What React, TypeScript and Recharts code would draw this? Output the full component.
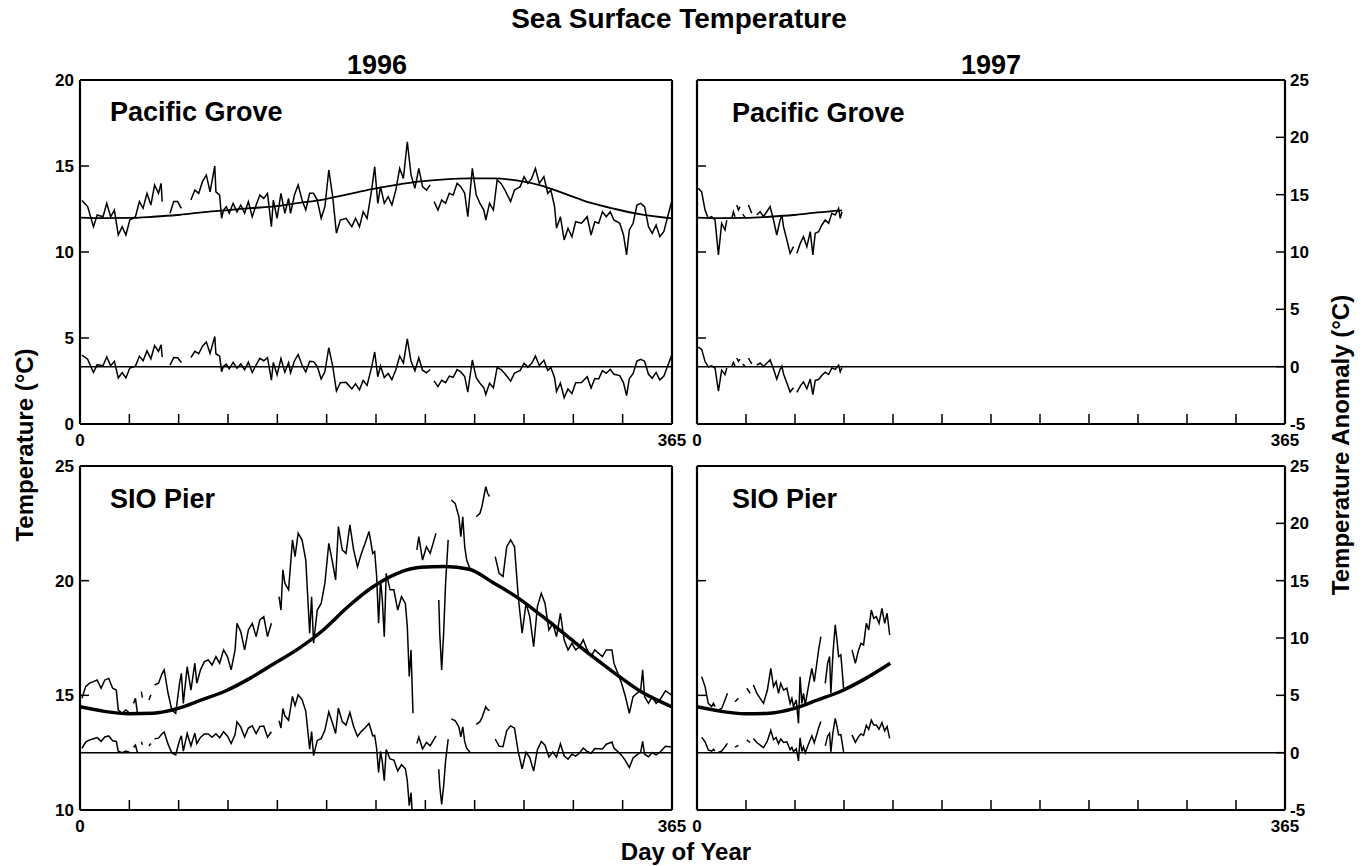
import React from 'react';
import { LineChart, Line, XAxis, YAxis, ReferenceLine } from 'recharts';

const FONT = '"Liberation Sans", Arial, Helvetica, sans-serif';

// ---- tick values ----
const MONTH_TICKS = [0, 30.42, 60.83, 91.25, 121.67, 152.08, 182.5, 212.92, 243.33, 273.75, 304.17, 334.58, 365];
const PG_TEMP_TICKS = [0, 5, 10, 15, 20];
const SIO_TEMP_TICKS = [10, 15, 20, 25];
const ANOM_TICKS = [-5, 0, 5, 10, 15, 20, 25];

// ---- climatologies ----
const CLIM_DAY = [0, 15, 30, 45, 60, 75, 90, 105, 120, 135, 150, 165, 180, 195, 210, 225, 240, 255, 270, 285, 300, 315, 330, 345, 365];
const PG_CLIM = [12.0, 11.97, 11.98, 12.05, 12.15, 12.3, 12.42, 12.55, 12.65, 12.85, 13.05, 13.35, 13.65, 13.9, 14.1, 14.22, 14.28, 14.28, 14.15, 13.85, 13.35, 12.85, 12.5, 12.2, 11.95];
const SIO_CLIM = [14.5, 14.3, 14.2, 14.22, 14.42, 14.8, 15.2, 15.75, 16.4, 17.05, 17.85, 18.85, 19.7, 20.3, 20.58, 20.62, 20.5, 19.9, 19.25, 18.45, 17.6, 16.75, 15.95, 15.2, 14.5];

// ---- Pacific Grove 1996 ----
const PG96_DAY = [1.2, 4.7, 8.3, 10.6, 14.2, 16.5, 18.9, 21.2, 23.6, 26, 28.3, 30.7, 34.2, 36.6, 38.9, 41.3, 43.7, 46, 48.4, 50, 50.7, 53, 55.5, 57.8, 60.2, 62.5, 65, 68.4, 70.8, 73.2, 75.5, 77.9, 80.2, 83.1, 83.8, 86.1, 87.3, 88.5, 90.2, 92, 94.4, 96.8, 99.1, 101.5, 103.8, 106.2, 108.6, 110.9, 113.3, 115.6, 118, 119.2, 121.5, 123.9, 126.3, 128.6, 129.8, 132.2, 134.5, 136.9, 139.2, 141.6, 144, 146.3, 148.7, 151, 153.4, 155.8, 158.1, 160.5, 164, 167.6, 169.9, 172.3, 174.6, 177, 179.8, 181.7, 183.6, 185.3, 187.6, 190, 192.3, 194.7, 197.1, 199.4, 201.8, 204.1, 206.5, 208.9, 211.2, 213.6, 215.9, 217, 218.3, 220.7, 223, 225.4, 227.7, 230.1, 232.5, 234.8, 237.2, 239.1, 241.9, 244.3, 246.6, 249, 250.2, 252.5, 254.9, 257.2, 259.6, 262, 265.5, 267.9, 271.4, 273.8, 276.1, 278.5, 280.8, 283.2, 286, 288.4, 290.3, 292.6, 293.8, 296.2, 298.5, 300.9, 303.3, 305.6, 309.2, 312.7, 315.1, 317.4, 319.8, 322.1, 324.5, 326.9, 329.2, 332.8, 335.1, 337, 338.7, 341, 343.4, 345.7, 348.1, 350.5, 352.8, 355.2, 357.5, 360, 363, 365];
const PG96_T = [13.0, 12.64, 11.47, 12.15, 12.05, 12.83, 12.05, 12.44, 10.99, 11.47, 10.99, 11.86, 12.05, 12.93, 12.54, 13.41, 12.73, 13.9, 13.41, 13.99, 12.93, null, 12.25, 12.93, 12.93, 12.54, null, 13.02, 13.6, 13.41, 14.09, 14.48, 13.5, 15.0, 13.5, 13.31, 11.96, 12.44, 12.64, 12.25, 12.83, 12.34, 12.73, 12.25, 12.93, 12.05, 12.73, 13.31, 13.12, 13.41, 11.47, 13.02, 11.96, 13.41, 12.25, 13.12, 12.25, 13.31, 13.9, 13.02, 12.44, 13.41, 13.41, 13.02, 11.96, 12.64, 14.77, 13.22, 11.09, 11.86, 11.96, 11.47, 11.96, 11.47, 12.34, 11.96, 13.6, 14.96, 12.83, 13.8, 12.83, 13.22, 12.73, 13.6, 14.86, 14.28, 16.41, 14.48, 13.7, 14.86, 13.8, 13.6, 13.9, null, 12.93, 12.44, 13.02, 12.83, 13.41, 13.31, 13.99, 13.8, 13.41, 12.05, 14.86, 13.31, 12.83, 12.44, 11.86, 12.83, 12.44, 14.19, 13.99, 13.6, 12.93, 13.6, 13.8, 14.38, 13.99, 14.28, 14.86, 13.99, 14.38, 13.41, 13.6, 12.64, 11.38, 12.05, 10.7, 11.38, 10.89, 11.76, 11.67, 12.05, 10.99, 11.76, 11.67, 12.34, 12.05, 12.34, 11.86, 11.67, 10.99, 9.83, 11.28, 11.67, 12.73, 12.83, 12.64, 11.47, 11.09, 11.57, 10.89, 11.2, 12.3, 13.0];

// ---- Pacific Grove 1997 ----
const PG97_DAY = [0.8, 2.9, 5.0, 7.0, 9.1, 11.2, 13.3, 15.3, 17.4, 18.5, 20, 21.6, 22.6, 23.6, 24.2, 24.7, 25.7, 26.7, 28, 28.4, 29.9, 31, 31.9, 34, 36, 37.1, 39.2, 41.3, 43.3, 45.4, 47.5, 49.5, 51.6, 52.7, 53.7, 55.8, 57.8, 59.9, 61.5, 62, 64.1, 66.1, 68.2, 70.3, 71.9, 73.4, 75.5, 77.5, 79.6, 81.7, 83.7, 85.8, 87.9, 88.9, 90];
const PG97_T = [13.7, 13.5, 12.44, 11.96, 12.05, 11.86, 9.83, 11.67, 11.28, 11.86, null, 11.96, 12.34, 12.05, null, 12.73, 12.44, 12.64, null, 12.2, 12.0, null, 12.73, 12.25, null, 12.15, 12.34, 12.05, 12.34, 12.64, 11.86, 10.99, 11.86, 12.15, 11.47, 10.7, 9.92, 10.31, null, 9.92, 10.5, 10.89, 10.31, 11.18, 9.83, 11.09, 11.18, 11.57, 11.86, 11.67, 12.25, 12.15, 12.54, 11.96, 12.34];

// ---- SIO Pier 1996 ----
const SIO96_DAY = [1.2, 3.5, 5.9, 8.3, 10.6, 13, 15.3, 17.7, 20.1, 22.4, 23.6, 26, 28.3, 30.7, 32, 33, 34.2, 35.4, 37, 37.8, 38.5, 40, 42.5, 43.7, 45, 46, 48.4, 50.7, 51.9, 54.3, 56.6, 59, 61.4, 62.5, 63.7, 66.1, 68.4, 70.8, 72, 74.3, 76.7, 79.1, 81.4, 83.8, 86.1, 88.5, 90.9, 93.2, 95.6, 96.8, 99.1, 101.5, 103.8, 106.2, 108.6, 110.9, 113.3, 115.6, 118, 120, 122.7, 123.9, 125.1, 126.3, 128.6, 131, 132.6, 134.5, 136.9, 139.2, 141.6, 142.8, 144, 146.3, 148.7, 151, 153.4, 155.8, 157.6, 159.3, 161.7, 164, 166.4, 168.7, 171.1, 173.5, 175.8, 178.2, 180.5, 181.7, 182.9, 184.1, 185.3, 186.4, 187.6, 188.8, 191.2, 193.5, 195.9, 198.2, 200.6, 201.8, 203, 204.1, 205.3, 207, 207.7, 208.9, 211.2, 213.6, 215.9, 218.3, 219.5, 220.6, 221.2, 221.8, 223, 224.2, 225.4, 227, 228, 228.9, 231.3, 233.6, 234.8, 236, 237.2, 238.4, 240.7, 243, 244.3, 246.6, 247.8, 249, 250.2, 251.3, 252.5, 254, 256, 258.4, 260.8, 263.1, 265.5, 267.9, 270.2, 272.6, 275, 277.3, 279.7, 282, 284.4, 286.7, 289.1, 291.5, 293.8, 296.2, 298.5, 300.9, 303.3, 305.6, 308, 310.3, 312.7, 315.1, 317.4, 319.8, 322.1, 324.5, 328, 329.2, 331.6, 333.9, 336.3, 338.7, 341, 343.4, 345.7, 346.9, 348.1, 350.5, 352.8, 355.2, 357.5, 361, 365];
const SIO96_T = [14.87, 15.38, 15.53, 15.6, 15.67, 15.31, 15.67, 15.74, 15.31, 15.23, 14.36, 14.22, 14.36, 14.22, null, 14.65, 14.87, 14.22, null, 15.16, 14.9, null, 14.8, 15.02, null, 15.45, 15.53, 15.96, 16.11, 15.09, 14.36, 14.22, 15.53, 15.96, 14.65, 16.25, 15.23, 16.4, 15.53, 16.11, 16.47, 16.54, 16.32, 16.69, 16.4, 16.98, 16.69, 16.11, 16.98, 18.14, 17.78, 16.98, 17.85, 18.14, 17.56, 18.29, 18.43, 17.56, 18.14, null, 19.3, 18.72, 20.47, 19.89, 19.6, 21.78, 21.05, 22.07, 21.78, 20.9, 17.71, 19.3, 17.27, 18.72, 19.01, 19.89, 21.63, 20.76, 20.03, 22.36, 21.34, 21.19, 22.43, 21.34, 20.61, 21.19, 21.63, 22.14, 21.19, 21.27, 20.18, 18.14, 20.03, 19.16, 17.56, 20.32, 19.6, 19.6, 18.72, 19.3, 19.01, 18.0, 15.82, 16.98, 14.22, null, 21.34, 21.92, 20.9, 21.48, 21.19, 21.78, 22.07, null, 19.16, 17.71, 16.11, 17.71, 19.89, 21.78, null, 23.52, 23.37, 22.79, 21.92, 22.79, 21.48, 20.9, 20.47, null, 22.79, 22.94, 23.23, 23.67, 24.1, 23.81, 23.67, null, 21.05, 20.32, 20.18, 21.48, 21.78, 21.48, 19.3, 17.71, 19.01, 18.43, 17.12, 18.87, 19.45, 19.01, 17.85, 18.14, 17.56, 18.58, 17.42, 16.98, 17.27, 16.98, 17.12, 17.42, 16.98, 16.69, 16.98, 16.83, 16.69, 16.98, 16.98, 16.4, 15.96, 15.53, 14.94, 14.22, 14.94, 15.09, 15.23, 16.11, 14.94, 14.65, 14.94, 14.65, 14.8, 15.2, 15.0];

// ---- SIO Pier 1997 ----
const SIO97_DAY = [2.9, 5.0, 7.0, 9.1, 10.2, 11.2, 12.2, 13.3, 15.3, 17.4, 18.9, 21, 23.6, 25.7, 28, 30.9, 33, 34, 35, 37.1, 39.2, 41.3, 43.7, 45.8, 47.5, 49.1, 50.6, 52, 53.7, 55.8, 57.8, 58.9, 59.9, 61.6, 63, 64, 65.1, 66.1, 67.2, 68.6, 70.3, 71.3, 72.8, 74.4, 75.5, 76.9, 78, 79.6, 81.1, 82.3, 83.1, 84.4, 85.8, 86.9, 87.9, 89.3, 91, 93, 96.2, 98.3, 100.3, 101.8, 103.4, 105.1, 106.6, 108.2, 109.7, 111.3, 113, 114.8, 116.5, 118, 119.6];
const SIO97_T = [15.81, 15.38, 14.65, 14.51, 14.65, 14.51, null, 14.36, 14.43, 14.8, 15.09, null, 14.72, 14.87, null, 15.31, 15.09, null, 15.45, 15.09, 14.87, 14.65, 15.23, 16.18, 15.38, 15.6, 15.09, 15.52, 15.23, 15.31, 14.65, 14.87, 14.51, 14.8, 13.78, 15.81, 14.65, 15.09, 14.58, 15.16, 15.81, 16.18, 15.6, 16.4, 16.98, 17.56, null, 15.52, 16.4, 16.69, 15.09, 16.83, 18.07, 17.41, 16.69, 16.76, 15.31, null, 16.98, 16.4, 16.98, 17.27, 17.2, 18.14, 17.85, 18.72, 18.36, 18.43, 18.14, 18.79, 18.14, 18.58, 17.63];

type Row = { day: number; t: number | null; a: number | null };
type ClimRow = { day: number; c: number };

function climAt(days: number[], vals: number[], x: number): number {
  for (let i = 0; i < days.length - 1; i++) {
    if (x >= days[i] && x <= days[i + 1]) {
      const f = (x - days[i]) / (days[i + 1] - days[i]);
      return vals[i] + f * (vals[i + 1] - vals[i]);
    }
  }
  return vals[vals.length - 1];
}

function buildRows(days: number[], temps: (number | null)[], clim: number[]): Row[] {
  return days.map((d, i) => {
    const t = temps[i];
    return { day: d, t, a: t == null ? null : t - climAt(CLIM_DAY, clim, d) };
  });
}

function buildClim(clim: number[], maxDay: number): ClimRow[] {
  return CLIM_DAY.map((d, i) => ({ day: d, c: clim[i] })).filter((r) => r.day <= maxDay);
}

const pg96 = buildRows(PG96_DAY, PG96_T, PG_CLIM);
const pg97 = buildRows(PG97_DAY, PG97_T, PG_CLIM);
const sio96 = buildRows(SIO96_DAY, SIO96_T, SIO_CLIM);
const sio97 = buildRows(SIO97_DAY, SIO97_T, SIO_CLIM);

const TXT = { fontFamily: FONT, fontWeight: 700 as const, fill: '#000' };

interface PanelProps {
  left: number;
  top: number;
  width: number;
  height: number;
  rows: Row[];
  clim: ClimRow[];
  yDomain: [number, number];
  yTicks: number[];
  leftLabels: boolean;
  rightLabels: boolean;
  climWidth: number;
}

function Panel(p: PanelProps) {
  const axisLine = { stroke: '#000', strokeWidth: 2.2 };
  const leftTick = (t: any) => (
    <g>
      <line x1={t.x} x2={t.x + 9} y1={t.y} y2={t.y} stroke="#000" strokeWidth={1.5} />
      {p.leftLabels && (
        <text x={t.x - 6} y={t.y} dy="0.36em" textAnchor="end" fontSize={17} {...TXT}>
          {t.payload.value}
        </text>
      )}
    </g>
  );
  const rightTick = (t: any) => (
    <g>
      <line x1={t.x} x2={t.x - 9} y1={t.y} y2={t.y} stroke="#000" strokeWidth={1.5} />
      <text x={t.x + 5} y={t.y} dy="0.36em" textAnchor="start" fontSize={17} {...TXT}>
        {t.payload.value}
      </text>
    </g>
  );
  const bottomTick = (t: any) => {
    const v = t.payload.value;
    const lab = v === 0 ? '0' : v === 365 ? '365' : '';
    return (
      <g>
        <line x1={t.x} x2={t.x} y1={t.y} y2={t.y - 10} stroke="#000" strokeWidth={1.5} />
        {lab && (
          <text x={t.x} y={t.y + 22} textAnchor="middle" fontSize={17} {...TXT}>
            {lab}
          </text>
        )}
      </g>
    );
  };
  return (
    <div style={{ position: 'absolute', left: p.left - 60, top: p.top - 10 }}>
      <LineChart width={p.width + 120} height={p.height + 40} margin={{ top: 10, right: 0, bottom: 0, left: 0 }}>
        <XAxis
          type="number"
          dataKey="day"
          domain={[0, 365]}
          ticks={MONTH_TICKS}
          interval={0}
          tickSize={0}
          tickMargin={0}
          tickLine={false}
          tick={bottomTick}
          axisLine={axisLine}
          height={30}
          allowDataOverflow
        />
        <YAxis
          yAxisId="left"
          orientation="left"
          width={60}
          type="number"
          domain={p.yDomain}
          ticks={p.yTicks}
          interval={0}
          tickSize={0}
          tickMargin={0}
          tickLine={false}
          tick={leftTick}
          axisLine={axisLine}
          allowDataOverflow
        />
        <YAxis
          yAxisId="right"
          orientation="right"
          width={60}
          type="number"
          domain={[-5, 25]}
          ticks={ANOM_TICKS}
          interval={0}
          tickSize={0}
          tickMargin={0}
          tickLine={false}
          tick={p.rightLabels ? rightTick : false}
          axisLine={axisLine}
          allowDataOverflow
        />
        <ReferenceLine yAxisId="left" y={p.yDomain[1]} stroke="#000" strokeWidth={2.2} />
        <ReferenceLine yAxisId="right" y={0} stroke="#000" strokeWidth={1.5} />
        <Line
          yAxisId="left"
          data={p.rows}
          dataKey="t"
          type="linear"
          stroke="#000"
          strokeWidth={1.5}
          dot={false}
          activeDot={false}
          isAnimationActive={false}
        />
        <Line
          yAxisId="right"
          data={p.rows}
          dataKey="a"
          type="linear"
          stroke="#000"
          strokeWidth={1.5}
          dot={false}
          activeDot={false}
          isAnimationActive={false}
        />
        <Line
          yAxisId="left"
          data={p.clim}
          dataKey="c"
          type="monotone"
          stroke="#000"
          strokeWidth={p.climWidth}
          dot={false}
          activeDot={false}
          isAnimationActive={false}
        />
      </LineChart>
    </div>
  );
}

export default function App() {
  return (
    <div style={{ position: 'relative', width: 1364, height: 866, background: '#fff', overflow: 'hidden' }}>
      <style>{`body{margin:0;background:#fff}`}</style>
      <Panel left={80} top={80} width={592} height={344} rows={pg96} clim={buildClim(PG_CLIM, 365)} yDomain={[0, 20]} yTicks={PG_TEMP_TICKS} leftLabels rightLabels={false} climWidth={1.8} />
      <Panel left={697} top={80} width={588} height={344} rows={pg97} clim={buildClim(PG_CLIM, 90)} yDomain={[0, 20]} yTicks={PG_TEMP_TICKS} leftLabels={false} rightLabels climWidth={1.8} />
      <Panel left={80} top={466} width={592} height={344} rows={sio96} clim={buildClim(SIO_CLIM, 365)} yDomain={[10, 25]} yTicks={SIO_TEMP_TICKS} leftLabels rightLabels={false} climWidth={3.5} />
      <Panel left={697} top={466} width={588} height={344} rows={sio97} clim={buildClim(SIO_CLIM, 120)} yDomain={[10, 25]} yTicks={SIO_TEMP_TICKS} leftLabels={false} rightLabels climWidth={3.5} />
      <svg width={1364} height={866} style={{ position: 'absolute', left: 0, top: 0, pointerEvents: 'none' }}>
        <text x={679} y={28} textAnchor="middle" fontSize={28} {...TXT}>Sea Surface Temperature</text>
        <text x={377} y={74} textAnchor="middle" fontSize={27} {...TXT}>1996</text>
        <text x={991} y={74} textAnchor="middle" fontSize={27} {...TXT}>1997</text>
        <text x={110} y={121} fontSize={27} {...TXT}>Pacific Grove</text>
        <text x={732} y={122} fontSize={27} {...TXT}>Pacific Grove</text>
        <text x={110} y={508} fontSize={27} {...TXT}>SIO Pier</text>
        <text x={732} y={508} fontSize={27} {...TXT}>SIO Pier</text>
        <text x={686} y={860} textAnchor="middle" fontSize={24} {...TXT}>Day of Year</text>
        <text transform="translate(33,445) rotate(-90)" textAnchor="middle" fontSize={24} {...TXT}>Temperature  (°C)</text>
        <text transform="translate(1349,445) rotate(-90)" textAnchor="middle" fontSize={24} {...TXT}>Temperature Anomaly (°C)</text>
      </svg>
    </div>
  );
}
